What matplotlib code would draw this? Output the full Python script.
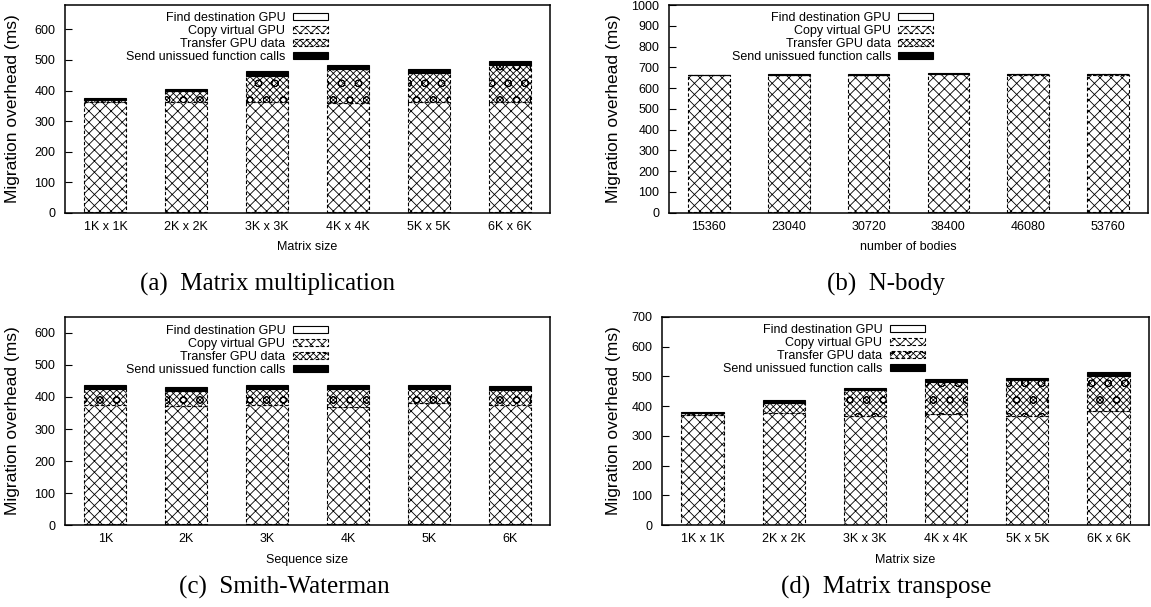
import matplotlib
matplotlib.use("Agg")
import matplotlib.pyplot as plt
import numpy as np

plt.rcParams["font.family"] = ["Liberation Sans", "DejaVu Sans"]
plt.rcParams["hatch.linewidth"] = 0.6

SERIES = ["Find destination GPU", "Copy virtual GPU",
          "Transfer GPU data", "Send unissued function calls"]

# (a) matrix multiplication, ms per component
mm_sizes = ["1K x 1K", "2K x 2K", "3K x 3K", "4K x 4K", "5K x 5K", "6K x 6K"]
mm_find = [1, 1, 2, 2, 2, 2]
mm_copy = [362, 361, 361, 357, 360, 362]
mm_transfer = [7, 36, 86, 113, 96, 120]
mm_send = [4, 6, 14, 12, 12, 12]

# (b) n-body
nb_bodies = ["15360", "23040", "30720", "38400", "46080", "53760"]
nb_find = [1, 1, 1, 1, 1, 1]
nb_copy = [660, 663, 663, 666, 664, 664]
nb_transfer = [1, 1, 1, 1, 1, 1]
nb_send = [1, 3, 3, 3, 2, 2]

# (c) smith-waterman
sw_sizes = ["1K", "2K", "3K", "4K", "5K", "6K"]
sw_find = [2, 2, 2, 2, 2, 2]
sw_copy = [372, 370, 372, 368, 378, 372]
sw_transfer = [52, 47, 52, 54, 46, 47]
sw_send = [12, 12, 12, 12, 12, 12]

# (d) matrix transpose
mt_sizes = ["1K x 1K", "2K x 2K", "3K x 3K", "4K x 4K", "5K x 5K", "6K x 6K"]
mt_find = [1, 1, 1, 1, 1, 1]
mt_copy = [370, 376, 365, 371, 367, 382]
mt_transfer = [5, 33, 87, 108, 120, 117]
mt_send = [4, 9, 8, 11, 8, 15]

STYLES = [
    dict(facecolor="white", edgecolor="black", hatch=None, linestyle="-"),
    dict(facecolor="white", edgecolor="black", hatch="xxx", linestyle=(0, (3, 2))),
    dict(facecolor="white", edgecolor="black", hatch="xxxxxo", linestyle=(0, (3, 2))),
    dict(facecolor="black", edgecolor="black", hatch=None, linestyle="-"),
]

W, H = 1151, 607
fig = plt.figure(figsize=(W / 100, H / 100), dpi=100)


def px_axes(left, right, top, bottom):
    return fig.add_axes([left / W, 1 - bottom / H, (right - left) / W, (bottom - top) / H])


def draw_panel(ax, labels, parts, ymax, xlabel, ylab_x, leg_anchor):
    x = np.arange(len(labels))
    base = np.zeros(len(labels))
    handles = []
    for vals, st, name in zip(parts, STYLES, SERIES):
        b = ax.bar(x, vals, 0.52, bottom=base, linewidth=0.8, label=name, **st)
        base = base + np.array(vals)
        handles.append(b)
    ax.set_xlim(-0.5, len(labels) - 0.5)
    ax.set_ylim(0, ymax)
    ax.set_xticks(x)
    ax.set_xticklabels(labels)
    ax.set_yticks(np.arange(0, ymax + 1, 100))
    ax.tick_params(axis="x", length=0, pad=6, labelsize=9)
    ax.tick_params(axis="y", direction="in", length=5, width=0.8, pad=7, labelsize=9)
    for sp in ax.spines.values():
        sp.set_linewidth(1.1)
    ax.set_xlabel(xlabel, fontsize=9, labelpad=6)
    ax.set_ylabel("Migration overhead (ms)", fontsize=12.5)
    ax.yaxis.set_label_coords(ylab_x, 0.5)
    ax.legend(handles, SERIES, loc="upper right", bbox_to_anchor=leg_anchor,
              markerfirst=False, frameon=False, borderpad=0, borderaxespad=0,
              handlelength=2.8, handleheight=0.5, handletextpad=0.6,
              labelspacing=0.08, fontsize=9)


ax_a = px_axes(65, 550, 5, 212.7)
draw_panel(ax_a, mm_sizes, [mm_find, mm_copy, mm_transfer, mm_send], 680,
           "Matrix size", -0.093, (0.542, 0.968))

ax_b = px_axes(669, 1148, 5, 212.7)
draw_panel(ax_b, nb_bodies, [nb_find, nb_copy, nb_transfer, nb_send], 1000,
           "number of bodies", -0.100, (0.552, 0.968))

ax_c = px_axes(65, 550, 317, 525)
draw_panel(ax_c, sw_sizes, [sw_find, sw_copy, sw_transfer, sw_send], 650,
           "Sequence size", -0.093, (0.542, 0.963))

ax_d = px_axes(662, 1149, 317, 525)
draw_panel(ax_d, mt_sizes, [mt_find, mt_copy, mt_transfer, mt_send], 700,
           "Matrix size", -0.084, (0.540, 0.968))

cap_kw = dict(family=["Liberation Serif", "DejaVu Serif"], fontsize=18,
              ha="center", va="center")
fig.text(268 / W, 1 - 284 / H, "(a)  Matrix multiplication", **cap_kw)
fig.text(886 / W, 1 - 284 / H, "(b)  N-body", **cap_kw)
fig.text(284 / W, 1 - 587 / H, "(c)  Smith-Waterman", **cap_kw)
fig.text(886 / W, 1 - 587 / H, "(d)  Matrix transpose", **cap_kw)

fig.savefig("out.png", dpi=100)
